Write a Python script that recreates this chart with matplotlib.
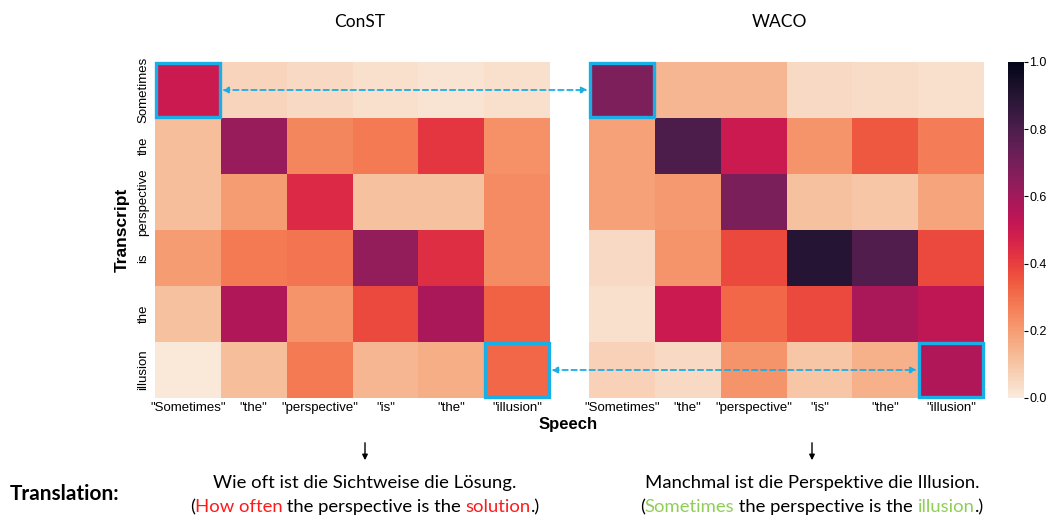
import numpy as np
import matplotlib
matplotlib.use("Agg")
import matplotlib.pyplot as plt
import seaborn as sns
from matplotlib.patches import Rectangle, ConnectionPatch

# data
speech_labels = ['"Sometimes"', '"the"', '"perspective"', '"is"', '"the"', '"illusion"']
transcript_labels = ["Sometimes", "the", "perspective", "is", "the", "illusion"]

const_vals = np.array([
    [0.50, 0.06, 0.05, 0.03, 0.02, 0.03],
    [0.12, 0.62, 0.25, 0.28, 0.42, 0.23],
    [0.12, 0.20, 0.45, 0.11, 0.11, 0.24],
    [0.20, 0.28, 0.29, 0.63, 0.44, 0.24],
    [0.11, 0.57, 0.22, 0.38, 0.58, 0.33],
    [0.01, 0.12, 0.28, 0.14, 0.16, 0.32],
])
waco_vals = np.array([
    [0.68, 0.14, 0.14, 0.05, 0.04, 0.03],
    [0.19, 0.80, 0.50, 0.22, 0.35, 0.27],
    [0.19, 0.21, 0.69, 0.11, 0.10, 0.18],
    [0.05, 0.22, 0.38, 0.90, 0.79, 0.38],
    [0.03, 0.50, 0.32, 0.38, 0.58, 0.53],
    [0.07, 0.05, 0.22, 0.10, 0.15, 0.57],
])
cbar_ticks = [0.0, 0.2, 0.4, 0.6, 0.8, 1.0]

plt.rcParams['font.family'] = ['Liberation Sans', 'DejaVu Sans']
W, H = 1054, 521
fig = plt.figure(figsize=(W / 100, H / 100), dpi=100)

def box(x0, y0, x1, y1):
    return [x0 / W, 1 - y1 / H, (x1 - x0) / W, (y1 - y0) / H]

ax1 = fig.add_axes(box(155, 62, 550, 398))
ax2 = fig.add_axes(box(589, 62, 984, 398))
cax = fig.add_axes(box(1008, 62, 1024, 398))

cmap = sns.color_palette("rocket_r", as_cmap=True)
sns.heatmap(const_vals, ax=ax1, cmap=cmap, vmin=0, vmax=1, cbar=False,
            xticklabels=speech_labels, yticklabels=transcript_labels)
sns.heatmap(waco_vals, ax=ax2, cmap=cmap, vmin=0, vmax=1, cbar_ax=cax,
            xticklabels=speech_labels, yticklabels=False)

for a in (ax1, ax2):
    a.tick_params(length=0, labelsize=9.5, pad=3)
    plt.setp(a.get_xticklabels(), rotation=0)
ax1.set_yticklabels(transcript_labels, rotation=90, va="center")
ax1.tick_params(axis="y", pad=4)

cax.set_yticks(cbar_ticks)
cax.set_yticklabels([f"{t:.1f}" for t in cbar_ticks])
cax.tick_params(labelsize=9, length=3, width=0.8, pad=1)

tfont = ["Lato", "DejaVu Sans"]
fig.text(360 / W, 1 - 22 / H, "ConST", fontsize=12.5, ha="center", va="center", family=tfont)
fig.text(779 / W, 1 - 22 / H, "WACO", fontsize=12.5, ha="center", va="center", family=tfont)
fig.text(122 / W, 1 - 230 / H, "Transcript", rotation=90, ha="center", va="center",
         fontsize=12.5, fontweight="bold")
fig.text(568 / W, 1 - 425 / H, "Speech", ha="center", va="center",
         fontsize=12, fontweight="bold")

# highlight boxes
blue = "#1aaee6"
n = len(transcript_labels)
for a, (r, c) in [(ax1, (0, 0)), (ax1, (n - 1, n - 1)), (ax2, (0, 0)), (ax2, (n - 1, n - 1))]:
    a.add_patch(Rectangle((c + 0.02, r + 0.02), 0.96, 0.96, fill=False,
                          edgecolor=blue, lw=2.4, clip_on=False, zorder=5))

# dashed connectors
con1 = ConnectionPatch(xyA=(1.02, 0.5), coordsA=ax1.transData, xyB=(-0.02, 0.5),
                       coordsB=ax2.transData, arrowstyle="<|-|>", linestyle=(0, (3, 2)),
                       color=blue, lw=1.3, mutation_scale=9)
fig.add_artist(con1)
con2 = ConnectionPatch(xyA=(n + 0.02, n - 0.5), coordsA=ax1.transData,
                       xyB=(n - 1 - 0.02, n - 0.5), coordsB=ax2.transData,
                       arrowstyle="<|-|>", linestyle=(0, (3, 2)),
                       color=blue, lw=1.3, mutation_scale=9)
fig.add_artist(con2)

# arrows down
for xc in (365, 812):
    fig.add_artist(matplotlib.patches.FancyArrowPatch(
        (xc / W, 1 - 440 / H), (xc / W, 1 - 463 / H), arrowstyle="-|>",
        mutation_scale=8, color="black", lw=1.0))

fs = 13.3
fig.text(10 / W, 1 - 494 / H, "Translation:", fontsize=15, fontweight="bold",
         va="center", ha="left", family=tfont)
fig.text(365 / W, 1 - 483 / H, "Wie oft ist die Sichtweise die Lösung.", fontsize=fs,
         ha="center", va="center", family=tfont)
fig.text(812 / W, 1 - 483 / H, "Manchmal ist die Perspektive die Illusion.", fontsize=fs,
         ha="center", va="center", family=tfont)

renderer = fig.canvas.get_renderer()

def color_line(xc, yc, parts):
    texts = []
    for s, col in parts:
        t = fig.text(0, 1 - yc / H, s, color=col, fontsize=fs, va="center", ha="left",
                     family=tfont)
        texts.append(t)
    widths = [t.get_window_extent(renderer).width for t in texts]
    x = xc - sum(widths) / 2
    for t, w in zip(texts, widths):
        t.set_x(x / W)
        x += w

red = "#ff1a1a"
green = "#8fcf57"
color_line(365, 507, [("(", "black"), ("How often", red), (" the perspective is the ", "black"),
                      ("solution", red), (".)", "black")])
color_line(812, 507, [("(", "black"), ("Sometimes", green), (" the perspective is the ", "black"),
                      ("illusion", green), (".)", "black")])

fig.savefig("out.png", dpi=100)
